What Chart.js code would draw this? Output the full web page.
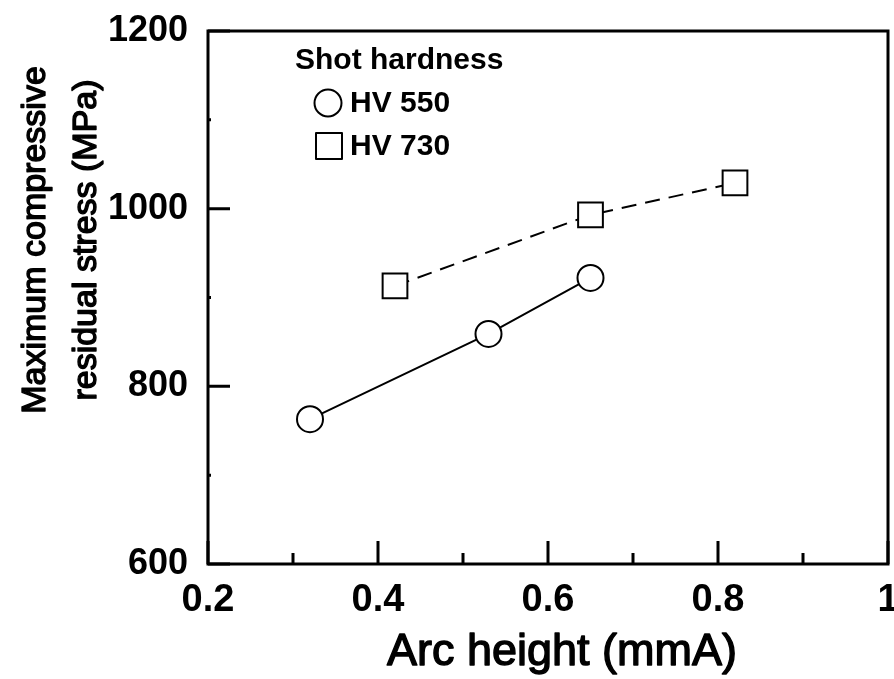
<!DOCTYPE html>
<html>
<head>
<meta charset="utf-8">
<script src="https://cdn.jsdelivr.net/npm/chart.js@4/dist/chart.umd.min.js"></script>
<style>
  html, body { margin: 0; padding: 0; background: #fff; }
  #wrap { width: 894px; height: 679px; }
</style>
</head>
<body>
<div id="wrap"><canvas id="chart"></canvas></div>
<script>
// data
const hv550X = [0.32, 0.53, 0.65];
const hv550Y = [763, 859, 922];
const hv730X = [0.42, 0.65, 0.82];
const hv730Y = [913, 993, 1029];

const seriesLabels = ["HV 550", "HV 730"];
const legendTitle = "Shot hardness";
const xTitle = "Arc height (mmA)";
const yTitle = ["Maximum compressive", "residual stress (MPa)"];

const xTicks = [0.2, 0.4, 0.6, 0.8, 1];
const xMinor = [0.3, 0.5, 0.7, 0.9];
const yTicks = [600, 800, 1000, 1200];
const yMinor = [700, 900, 1100];

const FONT = '"Liberation Sans", Arial, Helvetica, sans-serif';

const toPoints = (xs, ys) => xs.map((x, i) => ({ x: x, y: ys[i] }));

// kill the automatic label overhang padding so the frame sits where it should
const noPad = s => { s.paddingLeft = 0; s.paddingRight = 0; s.paddingTop = 0; s.paddingBottom = 0; };

// frame, inward tick marks, axis titles and legend
const decor = {
  id: "decor",
  afterDraw(chart) {
    const ctx = chart.ctx;
    const a = chart.chartArea;
    const xs = chart.scales.x, ys = chart.scales.y;
    ctx.save();
    ctx.strokeStyle = "#000";
    ctx.lineWidth = 3;
    ctx.strokeRect(a.left, a.top, a.right - a.left, a.bottom - a.top);

    ctx.beginPath();
    xTicks.forEach(v => {
      const px = xs.getPixelForValue(v);
      ctx.moveTo(px, a.bottom); ctx.lineTo(px, a.bottom - 23);
    });
    xMinor.forEach(v => {
      const px = xs.getPixelForValue(v);
      ctx.moveTo(px, a.bottom); ctx.lineTo(px, a.bottom - 11);
    });
    yTicks.forEach(v => {
      const py = ys.getPixelForValue(v);
      ctx.moveTo(a.left, py); ctx.lineTo(a.left + 22, py);
    });
    yMinor.forEach(v => {
      const py = ys.getPixelForValue(v);
      ctx.moveTo(a.left, py); ctx.lineTo(a.left + 3, py);
    });
    ctx.stroke();

    // axis titles (outline to match the heavier print weight)
    ctx.fillStyle = "#000";
    ctx.lineWidth = 1.4;
    ctx.lineJoin = "round";
    ctx.textAlign = "center";
    ctx.textBaseline = "alphabetic";
    ctx.font = "45px " + FONT;
    ctx.fillText(xTitle, 562, 665);
    ctx.strokeText(xTitle, 562, 665);

    ctx.save();
    ctx.translate(0, 240);
    ctx.rotate(-Math.PI / 2);
    ctx.font = "34px " + FONT;
    ctx.fillText(yTitle[0], 0, 45);
    ctx.strokeText(yTitle[0], 0, 45);
    ctx.fillText(yTitle[1], 0, 96);
    ctx.strokeText(yTitle[1], 0, 96);
    ctx.restore();

    // legend
    ctx.textAlign = "left";
    ctx.textBaseline = "middle";
    ctx.font = "bold 30px " + FONT;
    ctx.fillText(legendTitle, 295, 61);
    const rows = [103, 146];
    chart.data.datasets.forEach((ds, i) => {
      const cy = rows[i];
      ctx.lineWidth = 2;
      ctx.strokeStyle = "#000";
      ctx.fillStyle = "#fff";
      ctx.beginPath();
      if (ds.pointStyle === "circle") {
        ctx.arc(328, cy, 13.5, 0, Math.PI * 2);
      } else {
        ctx.rect(316, cy - 13, 26, 26);
      }
      ctx.fill();
      ctx.stroke();
      ctx.fillStyle = "#000";
      ctx.fillText(ds.label, 350, cy + 1);
    });
    ctx.restore();
  }
};

new Chart(document.getElementById("chart"), {
  type: "scatter",
  plugins: [decor],
  data: {
    datasets: [
      {
        label: seriesLabels[0],
        data: toPoints(hv550X, hv550Y),
        showLine: true,
        borderColor: "#000",
        borderWidth: 2,
        pointStyle: "circle",
        pointRadius: 13,
        pointBorderWidth: 2,
        pointBackgroundColor: "#fff",
        pointBorderColor: "#000",
      },
      {
        label: seriesLabels[1],
        data: toPoints(hv730X, hv730Y),
        showLine: true,
        borderColor: "#000",
        borderWidth: 2,
        borderDash: [15, 9],
        pointStyle: "rect",
        pointRadius: 17.5,
        pointBorderWidth: 2,
        pointBackgroundColor: "#fff",
        pointBorderColor: "#000",
      },
    ],
  },
  options: {
    responsive: true,
    maintainAspectRatio: false,
    animation: false,
    devicePixelRatio: 1,
    layout: { autoPadding: false, padding: { top: 31, right: 6, left: 0, bottom: 0 } },
    plugins: {
      legend: { display: false },
      tooltip: { enabled: false },
    },
    scales: {
      x: {
        type: "linear",
        min: 0.2,
        max: 1,
        afterBuildTicks: s => { s.ticks = xTicks.map(v => ({ value: v })); },
        afterFit: s => { s.height = 115; noPad(s); },
        grid: { display: false, drawTicks: false },
        border: { display: false },
        ticks: {
          color: "#000",
          padding: 14,
          maxRotation: 0,
          font: { family: FONT, size: 38, weight: "bold" },
          callback: v => String(v),
        },
      },
      y: {
        type: "linear",
        min: 600,
        max: 1200,
        afterBuildTicks: s => { s.ticks = yTicks.map(v => ({ value: v })); },
        afterFit: s => { s.width = 208; noPad(s); },
        grid: { display: false, drawTicks: false },
        border: { display: false },
        ticks: {
          color: "#000",
          padding: 20,
          font: { family: FONT, size: 36, weight: "bold" },
          callback: v => String(v),
        },
      },
    },
  },
});
</script>
</body>
</html>
